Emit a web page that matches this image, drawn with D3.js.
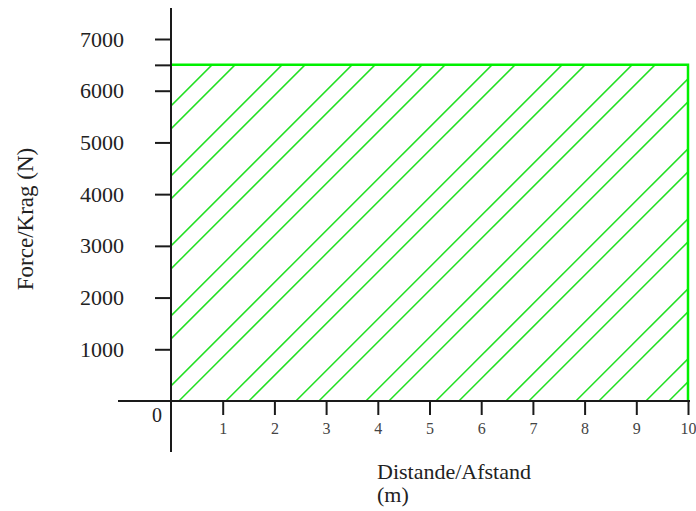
<!DOCTYPE html>
<html>
<head>
<meta charset="utf-8">
<script src="https://cdn.jsdelivr.net/npm/d3@7"></script>
<style>
  html, body { margin: 0; padding: 0; background: #fff; }
  svg { display: block; }
  text { font-family: "Liberation Serif", "DejaVu Serif", serif; }
</style>
</head>
<body>
<svg id="chart" width="696" height="511"></svg>
<script>
// ---- data ----
const region = { x0: 0, x1: 10, y0: 0, y1: 6500 };   // shaded area (distance m, force N)
const xTicks = [1, 2, 3, 4, 5, 6, 7, 8, 9, 10];
const yTicks = [1000, 2000, 3000, 4000, 5000, 6000, 6500, 7000];
const yTickLabels = ["1000", "2000", "3000", "4000", "5000", "6000", "", "7000"];
const xTitle = ["Distande/Afstand", "(m)"];
const yTitle = "Force/Krag (N)";

// ---- layout ----
const svg = d3.select("#chart");
const x = d3.scaleLinear().domain([0, 10]).range([171, 688]);
const y = d3.scaleLinear().domain([0, 7000]).range([401, 39]);

const green = "#00f000";
const hatchGreen = "#22e022";
const axisColor = "#1a1a1a";

// clip for hatching
svg.append("defs").append("clipPath").attr("id", "clip")
  .append("rect")
  .attr("x", x(region.x0)).attr("y", y(region.y1))
  .attr("width", x(region.x1) - x(region.x0))
  .attr("height", y(region.y0) - y(region.y1));

// hatching (pairs of 45° lines)
const px0 = x(region.x0), px1 = x(region.x1), py0 = y(region.y0), py1 = y(region.y1);
const period = 70, pairGap = 23, start = px0 + py1 + 41;
const hatch = [];
for (let u = start - period * 2; u <= px1 + py0 + period; u += period) {
  hatch.push(u, u + pairGap);
}
svg.append("g").attr("clip-path", "url(#clip)")
  .selectAll("line").data(hatch).join("line")
  .attr("x1", d => d - py0).attr("y1", py0)
  .attr("x2", d => d - py1).attr("y2", py1)
  .attr("stroke", hatchGreen).attr("stroke-width", 1.5);

// region border (top and right)
svg.append("path")
  .attr("d", d3.line()([[x(region.x0), y(region.y1)], [x(region.x1), y(region.y1)], [x(region.x1), y(region.y0)]]))
  .attr("fill", "none").attr("stroke", green).attr("stroke-width", 2.5);

// axes lines
svg.append("line").attr("x1", x(0)).attr("x2", x(0)).attr("y1", 8).attr("y2", 452)
  .attr("stroke", axisColor).attr("stroke-width", 2);
svg.append("line").attr("x1", 118).attr("x2", 690).attr("y1", y(0)).attr("y2", y(0))
  .attr("stroke", axisColor).attr("stroke-width", 2);

// y axis ticks
const yAxis = d3.axisLeft(y).tickValues(yTicks).tickSize(16).tickPadding(31)
  .tickFormat((d, i) => yTickLabels[i]);
const gy = svg.append("g").attr("transform", `translate(${x(0)},0)`).call(yAxis);
gy.select(".domain").remove();
gy.selectAll(".tick line").attr("stroke", axisColor).attr("stroke-width", 2);
gy.selectAll(".tick text").attr("fill", "#222").style("font-size", "22px")
  .style("font-family", "'Liberation Serif', serif");

// x axis ticks
const xAxis = d3.axisBottom(x).tickValues(xTicks).tickSize(14).tickPadding(8);
const gx = svg.append("g").attr("transform", `translate(0,${y(0)})`).call(xAxis);
gx.select(".domain").remove();
gx.selectAll(".tick line").attr("stroke", axisColor).attr("stroke-width", 2);
gx.selectAll(".tick text").attr("fill", "#444").style("font-size", "16px")
  .style("font-family", "'Liberation Serif', serif");

// origin label
svg.append("text").attr("x", 157).attr("y", 422).attr("text-anchor", "middle")
  .attr("fill", "#222").style("font-size", "20px").text("0");

// titles
svg.append("text").attr("x", 377).attr("y", 479).attr("fill", "#222")
  .style("font-size", "22px").text(xTitle[0]);
svg.append("text").attr("x", 377).attr("y", 502).attr("fill", "#222")
  .style("font-size", "22px").text(xTitle[1]);
svg.append("text").attr("transform", "translate(33,219) rotate(-90)")
  .attr("text-anchor", "middle").attr("fill", "#222")
  .style("font-size", "23px").text(yTitle);
</script>
</body>
</html>
